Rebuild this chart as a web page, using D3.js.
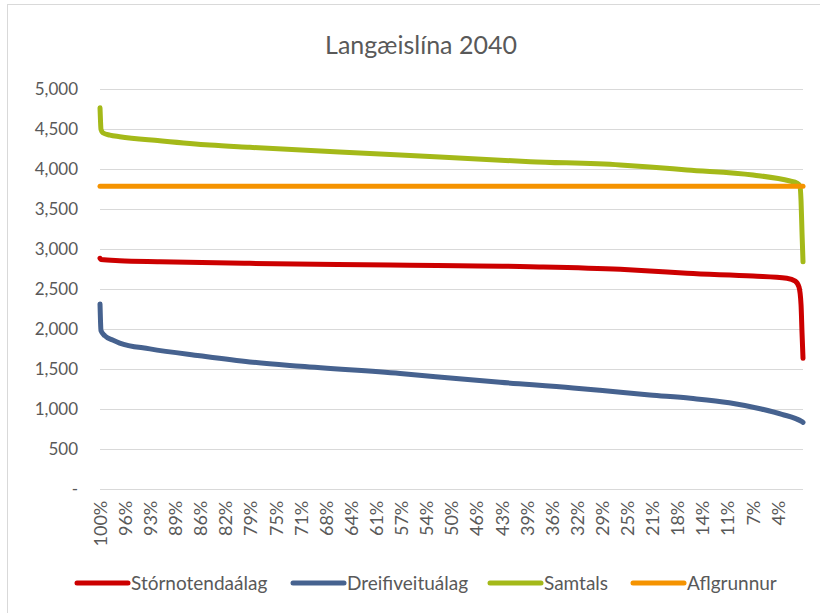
<!DOCTYPE html>
<html>
<head>
<meta charset="utf-8">
<script src="https://cdn.jsdelivr.net/npm/d3@7"></script>
<style>
  body { margin: 0; background: #fff; }
  text { font-family: Lato, "Open Sans", sans-serif; fill: #595959; }
</style>
</head>
<body>
<div id="chart"></div>
<script>
// Langæislína 2040 - load duration curves

const title = "Langæislína 2040";

// x axis category labels (share of the year), every 1/28 of the points
const xTickLabels = ["100%", "96%", "93%", "89%", "86%", "82%", "79%", "75%", "71%", "68%",
                     "64%", "61%", "57%", "54%", "50%", "46%", "43%", "39%", "36%", "32%",
                     "29%", "25%", "21%", "18%", "14%", "11%", "7%", "4%"];

const yTicks = [0, 500, 1000, 1500, 2000, 2500, 3000, 3500, 4000, 4500, 5000];

// [percent of time, MW]
const storn = [[100, 2880], [99.86, 2865], [97.2, 2850], [91.5, 2838], [78.7, 2817], [58.7, 2796],
               [38.8, 2775], [26.0, 2742], [21.8, 2722], [16.5, 2692], [7.1, 2658], [2.3, 2630],
               [1.1, 2595], [0.57, 2520], [0.28, 2300], [0.14, 1950], [0, 1630]];

const dreifi = [[100, 2310], [99.93, 2100], [99.86, 1975], [99.3, 1910], [98.2, 1859], [97.2, 1820],
                [92.9, 1748], [85.8, 1662], [78.7, 1585], [71.5, 1530], [57.3, 1440], [48.1, 1367],
                [43.1, 1330], [32.7, 1260], [28.9, 1230], [21.8, 1172], [16.0, 1130], [10.5, 1075],
                [6.1, 1000], [3.0, 930], [0.14, 838], [0, 830]];

const samtals = [[100, 4762], [99.93, 4600], [99.86, 4492], [99.6, 4450], [98.6, 4420], [97.2, 4400],
                 [91.5, 4350], [84.4, 4296], [78.7, 4267], [58.7, 4178], [38.8, 4088], [26.0, 4046],
                 [21.8, 4021], [16.5, 3984], [7.1, 3921], [1.85, 3846], [0.85, 3820], [0.43, 3780],
                 [0.28, 3600], [0.14, 3200], [0, 2838]];

const aflgrunnur = [[100, 3780], [0, 3780]];

const seriesNames = ["Stórnotendaálag", "Dreifiveituálag", "Samtals", "Aflgrunnur"];
const seriesData = [storn, dreifi, samtals, aflgrunnur];
const seriesColors = ["#cc0000", "#46628f", "#a4b919", "#f59300"];

const width = 820, height = 613;
const plot = { left: 100, right: 803, top: 88.7, bottom: 488.7 };

const svg = d3.select("#chart").append("svg")
    .attr("width", width)
    .attr("height", height);

// chart area border
svg.append("rect")
   .attr("x", 7.5).attr("y", 4.5)
   .attr("width", 840).attr("height", 700)
   .attr("fill", "#fff")
   .attr("stroke", "#d9d9d9");

svg.append("text")
   .attr("x", 421).attr("y", 54)
   .attr("text-anchor", "middle")
   .style("font-size", "25px")
   .text(title);

const x = d3.scaleLinear().domain([100, 0]).range([plot.left, plot.right]);
const y = d3.scaleLinear().domain([0, 5000]).range([plot.bottom, plot.top]);

// gridlines
svg.append("g")
   .selectAll("line")
   .data(yTicks)
   .enter()
   .append("line")
   .attr("x1", plot.left).attr("x2", plot.right)
   .attr("y1", d => Math.round(y(d)) + 0.5)
   .attr("y2", d => Math.round(y(d)) + 0.5)
   .attr("stroke", "#d9d9d9")
   .attr("stroke-width", 1);

// y axis labels
const yAxis = svg.append("g")
   .attr("transform", "translate(" + plot.left + ",0)")
   .call(d3.axisLeft(y).tickValues(yTicks).tickSize(0).tickPadding(22)
           .tickFormat(d => d === 0 ? "-  " : d3.format(",")(d)));
yAxis.select(".domain").remove();
yAxis.selectAll("text").style("font-size", "17px").style("fill", "#595959")
     .style("font-family", "Lato, 'Open Sans', sans-serif");

// x axis labels, rotated
const xTickValues = xTickLabels.map((d, i) => 100 - i * 100 / 28);
const xAxis = svg.append("g")
   .attr("transform", "translate(0," + plot.bottom + ")")
   .call(d3.axisBottom(x).tickValues(xTickValues).tickSize(0)
           .tickFormat((d, i) => xTickLabels[i]));
xAxis.select(".domain").remove();
xAxis.selectAll("text")
     .attr("transform", "rotate(-90)")
     .attr("text-anchor", "end")
     .attr("x", -12)
     .attr("y", 0)
     .attr("dy", "0.35em")
     .style("font-size", "18px").style("fill", "#595959")
     .style("font-family", "Lato, 'Open Sans', sans-serif");

// series lines
const line = d3.line()
    .x(d => x(d[0]))
    .y(d => y(d[1]))
    .curve(d3.curveMonotoneX);

svg.append("g")
   .selectAll("path")
   .data(seriesData)
   .enter()
   .append("path")
   .attr("d", d => line(d))
   .attr("fill", "none")
   .attr("stroke", (d, i) => seriesColors[i])
   .attr("stroke-width", 5)
   .attr("stroke-linecap", "round")
   .attr("stroke-linejoin", "round");

// legend
const legendX = [76, 292, 489, 632];
const legend = svg.append("g")
   .selectAll("g")
   .data(seriesNames)
   .enter()
   .append("g")
   .attr("transform", (d, i) => "translate(" + legendX[i] + ",583)");
legend.append("line")
      .attr("x1", 1).attr("x2", 52)
      .attr("stroke", (d, i) => seriesColors[i])
      .attr("stroke-width", 5)
      .attr("stroke-linecap", "round");
legend.append("text")
      .attr("x", 55)
      .attr("dy", "0.35em")
      .style("font-size", "19px")
      .text(d => d);
</script>
</body>
</html>
